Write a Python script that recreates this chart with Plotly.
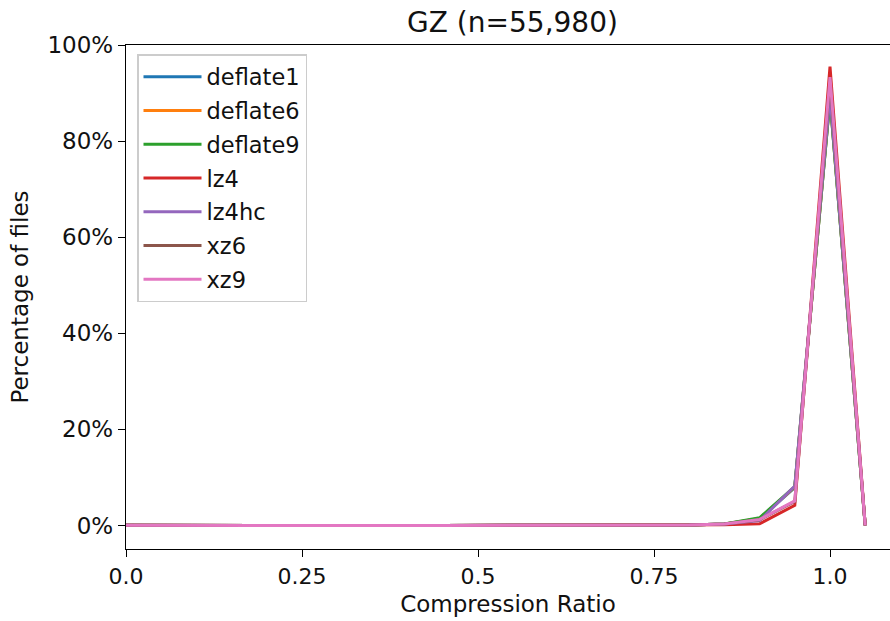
import plotly.graph_objects as go

# Compression ratio bins (0.00 .. 1.05, step 0.05)
ratio_bins = [round(i * 0.05, 2) for i in range(22)]

# Percentage of files falling into each bin, per codec
deflate1 = [0.02, 0.00, 0.01, 0.02, 0.02, 0.02, 0.02, 0.01, 0.01, 0.01, 0.02,
            0.02, 0.02, 0.02, 0.03, 0.04, 0.08, 0.30, 1.40, 7.9, 89.0, 0.0]
deflate6 = [0.02, 0.00, 0.01, 0.02, 0.02, 0.02, 0.02, 0.01, 0.01, 0.01, 0.02,
            0.02, 0.02, 0.02, 0.03, 0.04, 0.08, 0.30, 1.45, 8.0, 88.9, 0.0]
deflate9 = [0.02, 0.00, 0.01, 0.02, 0.02, 0.02, 0.02, 0.01, 0.01, 0.01, 0.02,
            0.02, 0.02, 0.02, 0.03, 0.04, 0.08, 0.32, 1.60, 8.1, 88.8, 0.0]
lz4 = [0.02, 0.00, 0.01, 0.02, 0.02, 0.02, 0.02, 0.01, 0.01, 0.01, 0.02,
       0.02, 0.02, 0.02, 0.03, 0.03, 0.05, 0.15, 0.35, 4.2, 95.5, 0.0]
lz4hc = [0.02, 0.00, 0.01, 0.02, 0.02, 0.02, 0.02, 0.01, 0.01, 0.01, 0.02,
         0.02, 0.02, 0.02, 0.03, 0.04, 0.08, 0.28, 1.00, 8.2, 89.5, 0.0]
xz6 = [0.02, 0.00, 0.01, 0.02, 0.02, 0.02, 0.02, 0.01, 0.01, 0.01, 0.02,
       0.02, 0.02, 0.02, 0.03, 0.04, 0.08, 0.30, 1.20, 5.0, 92.8, 0.0]
xz9 = [0.02, 0.00, 0.01, 0.02, 0.02, 0.02, 0.02, 0.01, 0.01, 0.01, 0.02,
       0.02, 0.02, 0.02, 0.03, 0.04, 0.08, 0.30, 1.25, 5.1, 93.3, 0.0]

series = [
    ("deflate1", deflate1, "#1f77b4"),
    ("deflate6", deflate6, "#ff7f0e"),
    ("deflate9", deflate9, "#2ca02c"),
    ("lz4", lz4, "#d62728"),
    ("lz4hc", lz4hc, "#9467bd"),
    ("xz6", xz6, "#8c564b"),
    ("xz9", xz9, "#e377c2"),
]

x_ticks = [0.0, 0.25, 0.5, 0.75, 1.0]
x_tick_labels = ["0.0", "0.25", "0.5", "0.75", "1.0"]
y_ticks = [0, 20, 40, 60, 80, 100]
y_tick_labels = ["0%", "20%", "40%", "60%", "80%", "100%"]

fig = go.Figure()
for name, vals, color in series:
    fig.add_trace(go.Scatter(
        x=ratio_bins, y=vals, mode="lines", name=name, legendgroup=name,
        line=dict(color=color, width=3),
    ))

font = "DejaVu Sans, sans-serif"
fig.update_layout(
    width=890, height=621,
    margin=dict(l=126, r=0, t=45, b=72),
    plot_bgcolor="white", paper_bgcolor="white",
    font=dict(family=font, size=22, color="#111111"),
    title=dict(text="GZ (n=55,980)", x=512.5 / 890, xanchor="center",
               y=1 - 22 / 621, yanchor="middle", font=dict(size=28)),
    showlegend=True,
    legend=dict(
        x=0.0144, y=0.982, xanchor="left", yanchor="top",
        bgcolor="rgba(255,255,255,0.8)", bordercolor="#cccccc", borderwidth=1.5,
        font=dict(size=22.5), itemwidth=58, tracegroupgap=1.5,
    ),
    xaxis=dict(
        range=[0, 764 / 704], tickvals=x_ticks, ticktext=x_tick_labels,
        showgrid=False, zeroline=False, showline=True, linecolor="black",
        linewidth=1.4, mirror=True, ticks="outside", ticklen=7, tickwidth=1.4,
        tickcolor="black", tickfont=dict(size=22),
        title=dict(text="Compression Ratio", font=dict(size=23), standoff=8),
    ),
    yaxis=dict(
        range=[-4.9, 100], tickvals=y_ticks, ticktext=y_tick_labels,
        showgrid=False, zeroline=False, showline=True, linecolor="black",
        linewidth=1.4, ticks="outside", ticklen=7, tickwidth=1.4,
        tickcolor="black", tickfont=dict(size=23),
        title=dict(text="Percentage of files", font=dict(size=23), standoff=12),
    ),
)

fig.write_html("out.html")
